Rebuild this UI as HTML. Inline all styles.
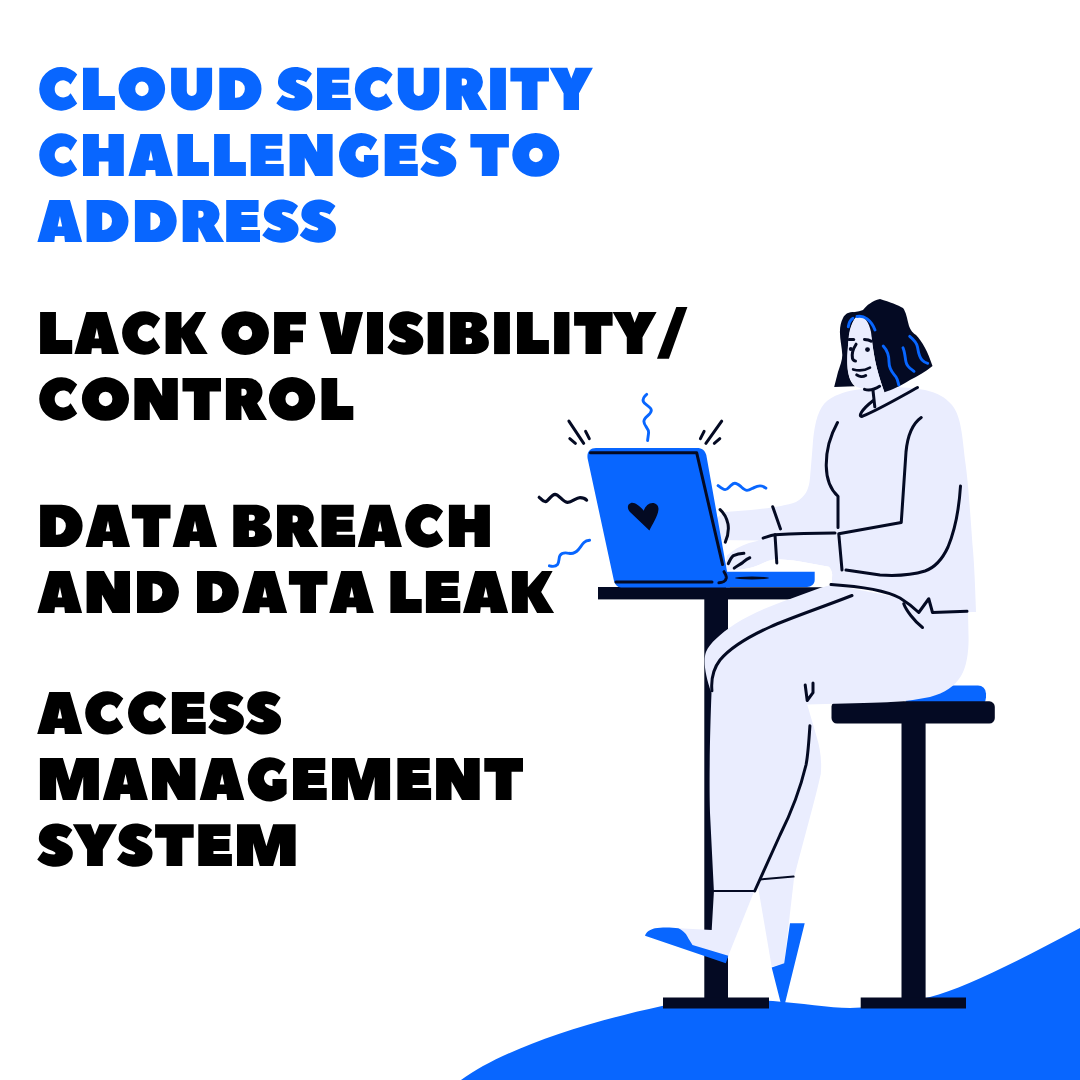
<!DOCTYPE html>
<html><head><meta charset="utf-8"><title>Cloud Security Challenges</title>
<style>
html,body{margin:0;padding:0;background:#fff}
body{width:1080px;height:1080px;position:relative;overflow:hidden;font-family:"Liberation Sans",sans-serif}
.sr{position:absolute;left:0;top:0;width:1px;height:1px;margin:-1px;padding:0;border:0;overflow:hidden;clip:rect(0 0 0 0);clip-path:inset(50%);white-space:nowrap}
svg{position:absolute;left:0;top:0}
#txt use{stroke:none;fill-rule:evenodd}
.bl{fill:#0866ff;stroke:#0866ff}
.bk{fill:#000;stroke:#000}
.s{fill:none;stroke:#040a23;stroke-width:3;stroke-linecap:round;stroke-linejoin:round}
.sb{fill:none;stroke:#0866ff;stroke-width:2.9;stroke-linecap:round;stroke-linejoin:round}
</style></head><body>
<div class="sr"><h1>CLOUD SECURITY CHALLENGES TO ADDRESS</h1><p>LACK OF VISIBILITY/ CONTROL</p><p>DATA BREACH AND DATA LEAK</p><p>ACCESS MANAGEMENT SYSTEM</p></div>
<svg width="1080" height="1080" viewBox="0 0 1080 1080">
<!-- TEXT -->
<g id="txt">
<defs>
<path id="gA" fill-rule="evenodd" d="M0,41.8 L12,0 L32.6,0 L44.8,41.8 L27.6,41.8 L27,35.9 L17.6,35.9 L17,41.8 Z M22.6,15.9 L24.8,26.4 L20.3,26.4 Z"/>
<path id="gM" fill-rule="evenodd" d="M0,0 L22.8,0 L29.4,22 L36.1,0 L58.6,0 L58.6,41.8 L43,41.8 L43,18.7 L36.1,41.8 L22.8,41.8 L16.1,18.7 L16.1,41.8 L0,41.8 Z"/>
<path id="gO" fill-rule="evenodd" d="M0,21.1 A23.4,21.9 0 1 0 46.8,21.1 A23.4,21.9 0 1 0 0,21.1 Z M16.7,21.1 A6.8,7.3 0 1 1 30.3,21.1 A6.8,7.3 0 1 1 16.7,21.1 Z"/>
<path id="gC" fill-rule="evenodd" d="M38.1,6.6 A21.8,21.8 0 1 0 38.1,35.6 L31.5,25.4 A8.56,8.56 0 1 1 31.5,16.8 Z"/>
<path id="gG" fill-rule="evenodd" d="M38.5,5.8 A22.3,22.3 0 1 0 39.5,35.8 L39.5,21.1 L25.2,21.1 L25.2,28 A8,8 0 1 1 31.9,16.7 Z"/>
<path id="gL" fill-rule="evenodd" d="M0,0 H15.8 V28.1 H32 V42.2 H0 Z"/>
<path id="gT" fill-rule="evenodd" d="M0,0 H38.5 V13.7 H27.1 V42.2 H11.4 V13.7 H0 Z"/>
<path id="gI" fill-rule="evenodd" d="M0,0 H15.8 V42.2 H0 Z"/>
<path id="gE" fill-rule="evenodd" d="M0,0 H31.9 V11.9 H15 V15 H30.8 V27 H15 V30.1 H33.3 V42.2 H0 Z"/>
<path id="gF" fill-rule="evenodd" d="M0,0 H31.8 V12.5 H16 V18.5 H28.9 V30.3 H16 V42.2 H0 Z"/>
<path id="gH" fill-rule="evenodd" d="M0,0 H15.9 V14.2 H25.5 V0 H40.8 V42.2 H25.5 V27.6 H15.9 V42.2 H0 Z"/>
<path id="gK" fill-rule="evenodd" d="M0,0 H15.9 V16.2 L30,0 H40.6 L29.2,21 L42.1,42.2 H25.1 L15.9,25.4 V42.2 H0 Z"/>
<path id="gV" fill-rule="evenodd" d="M0,0 H17.4 L22.3,24 L26.5,0 H43.6 L32.1,42.2 H11.8 Z"/>
<path id="gY" fill-rule="evenodd" d="M0,0 H18.1 L22.2,10.8 L26.5,0 H44.3 L30.1,25.4 V42.2 H14.3 V25.4 Z"/>
<path id="gN" fill-rule="evenodd" d="M0,0 H17.3 L27.7,18.5 V0 H43.3 V42.2 H25.7 L15.3,23.6 V42.2 H0 Z"/>
<path id="gD" fill-rule="evenodd" d="M0,0 H21.4 A21.1,21.1 0 0 1 21.4,42.2 H0 Z M15.8,12.5 H17 A8.75,8.75 0 0 1 17,30 H15.8 Z"/>
<path id="gU" fill-rule="evenodd" d="M0,0 H15.7 V23.2 A4.95,4.95 0 0 0 25.6,23.2 V0 H41 V22.2 A20.5,20.5 0 0 1 0,22.2 Z"/>
<path id="gR" fill-rule="evenodd" d="M0,0 H22 A14.9,14.4 0 0 1 31.5,25.5 L41.5,42.2 H23.4 L16.2,27.9 H15.7 V42.2 H0 Z M15.7,10.8 H17.5 A3.5,3.5 0 0 1 17.5,17.8 H15.7 Z"/>
<path id="gB" fill-rule="evenodd" d="M0,0 H21 C28,0 36.4,3 36.4,11.1 C36.4,15.5 33,18.5 28.9,19.7 C34,21 38.3,24.5 38.3,30.8 C38.3,38.5 31,42.2 21.5,42.2 H0 Z M15.5,10.1 H18.5 A2.9,3 0 0 1 18.5,16.1 H15.5 Z M15.5,25.8 H18.5 A3.2,3.25 0 0 1 18.5,32.3 H15.5 Z"/>
<path id="gS" fill-rule="evenodd" d="M35.2,5.9 L29.5,14.5 C27,12.8 23,11.8 20.5,12 C19,12.2 18.8,14 20.8,15.3 C25,17.5 31,19.5 33.5,23 C35.5,25.5 35.8,28 35.6,30 C35.4,37.5 28,42.9 18.5,42.9 C11,42.9 4.5,40 0,35.5 L6,27.3 C9.5,29.5 13.5,30.6 16.9,30.5 C18.8,30.3 18.8,28.5 16.9,27.7 C12,25.5 6,23.5 3.5,20 C1.5,17.5 1.5,14.5 1.8,12.5 C2.5,4.5 10,-0.7 18.5,-0.7 C25,-0.7 31,1.5 35.2,5.9 Z"/>
</defs>
<g class="bl" aria-label="CLOUD SECURITY">
<use href="#gC" transform="matrix(0.9974 0 0 1.0000 39.20 67.80)"/>
<use href="#gL" transform="matrix(0.9969 0 0 1.0000 83.00 67.80)"/>
<use href="#gO" transform="matrix(0.9936 0 0 1.0000 118.60 67.80)"/>
<use href="#gU" transform="matrix(1.0000 0 0 1.0000 171.10 67.80)"/>
<use href="#gD" transform="matrix(0.9929 0 0 1.0000 219.30 67.80)"/>
<use href="#gS" transform="matrix(1.0112 0 0 1.0000 276.30 67.80)"/>
<use href="#gE" transform="matrix(1.0120 0 0 1.0000 317.00 67.80)"/>
<use href="#gC" transform="matrix(0.9923 0 0 1.0000 354.80 67.80)"/>
<use href="#gU" transform="matrix(1.0122 0 0 1.0000 397.80 67.80)"/>
<use href="#gR" transform="matrix(0.9928 0 0 1.0000 446.20 67.80)"/>
<use href="#gI" transform="matrix(1.0000 0 0 1.0000 490.10 67.80)"/>
<use href="#gT" transform="matrix(1.0000 0 0 1.0000 510.40 67.80)"/>
<use href="#gY" transform="matrix(0.9774 0 0 1.0000 549.60 67.80)"/>
</g>
<g class="bl" aria-label="CHALLENGES TO">
<use href="#gC" transform="matrix(0.9974 0 0 0.9976 39.20 133.90)"/>
<use href="#gH" transform="matrix(1.0000 0 0 0.9976 83.00 133.90)"/>
<use href="#gA" transform="matrix(0.9888 0 0 1.0072 128.50 133.90)"/>
<use href="#gL" transform="matrix(0.9813 0 0 0.9976 177.50 133.90)"/>
<use href="#gL" transform="matrix(0.9938 0 0 0.9976 214.10 133.90)"/>
<use href="#gE" transform="matrix(0.9910 0 0 0.9976 250.70 133.90)"/>
<use href="#gN" transform="matrix(0.9931 0 0 0.9976 289.60 133.90)"/>
<use href="#gG" transform="matrix(0.9975 0 0 0.9976 338.80 133.90)"/>
<use href="#gE" transform="matrix(0.9940 0 0 0.9976 384.70 133.90)"/>
<use href="#gS" transform="matrix(1.0112 0 0 0.9976 420.30 133.90)"/>
<use href="#gT" transform="matrix(1.0000 0 0 0.9976 470.40 133.90)"/>
<use href="#gO" transform="matrix(1.0043 0 0 0.9976 512.30 133.90)"/>
</g>
<g class="bl" aria-label="ADDRESS">
<use href="#gA" transform="matrix(0.9978 0 0 1.0024 37.40 200.10)"/>
<use href="#gD" transform="matrix(0.9859 0 0 0.9929 86.60 200.10)"/>
<use href="#gD" transform="matrix(0.9835 0 0 0.9929 134.90 200.10)"/>
<use href="#gR" transform="matrix(0.9976 0 0 0.9929 182.70 200.10)"/>
<use href="#gE" transform="matrix(1.0150 0 0 0.9929 226.20 200.10)"/>
<use href="#gS" transform="matrix(1.0197 0 0 0.9929 262.20 200.10)"/>
<use href="#gS" transform="matrix(1.0169 0 0 0.9929 299.70 200.10)"/>
</g>
<g class="bk" aria-label="LACK OF VISIBILITY/">
<use href="#gL" transform="matrix(1.0031 0 0 0.9976 40.10 312.00)"/>
<use href="#gA" transform="matrix(0.9933 0 0 1.0072 74.40 312.00)"/>
<use href="#gC" transform="matrix(1.0000 0 0 0.9976 122.10 312.00)"/>
<use href="#gK" transform="matrix(1.0000 0 0 0.9976 165.60 312.00)"/>
<use href="#gO" transform="matrix(1.0128 0 0 0.9976 221.50 312.00)"/>
<use href="#gF" transform="matrix(1.0000 0 0 0.9976 274.10 312.00)"/>
<use href="#gV" transform="matrix(1.0023 0 0 0.9976 319.30 312.00)"/>
<use href="#gI" transform="matrix(1.0127 0 0 0.9976 367.00 312.00)"/>
<use href="#gS" transform="matrix(1.0084 0 0 0.9976 387.40 312.00)"/>
<use href="#gI" transform="matrix(1.0000 0 0 0.9976 427.70 312.00)"/>
<use href="#gB" transform="matrix(1.0131 0 0 0.9976 450.10 312.00)"/>
<use href="#gI" transform="matrix(1.0000 0 0 0.9976 494.10 312.00)"/>
<use href="#gL" transform="matrix(0.9969 0 0 0.9976 517.00 312.00)"/>
<use href="#gI" transform="matrix(0.9684 0 0 0.9976 554.10 312.00)"/>
<use href="#gT" transform="matrix(1.0000 0 0 0.9976 574.10 312.00)"/>
<use href="#gY" transform="matrix(0.9932 0 0 0.9976 612.60 312.00)"/>
</g>
<g class="bk" aria-label="CONTROL">
<use href="#gC" transform="matrix(0.9974 0 0 0.9976 39.20 377.90)"/>
<use href="#gO" transform="matrix(1.0064 0 0 0.9976 81.90 377.90)"/>
<use href="#gN" transform="matrix(1.0023 0 0 0.9976 134.40 377.90)"/>
<use href="#gT" transform="matrix(1.0000 0 0 0.9976 182.50 377.90)"/>
<use href="#gR" transform="matrix(0.9904 0 0 0.9976 225.90 377.90)"/>
<use href="#gO" transform="matrix(0.9893 0 0 0.9976 268.90 377.90)"/>
<use href="#gL" transform="matrix(0.9938 0 0 0.9976 321.50 377.90)"/>
</g>
<g class="bk" aria-label="DATA BREACH">
<use href="#gD" transform="matrix(1.0000 0 0 1.0024 40.10 504.70)"/>
<use href="#gA" transform="matrix(0.9911 0 0 1.0120 85.60 504.70)"/>
<use href="#gT" transform="matrix(1.0026 0 0 1.0024 131.90 504.70)"/>
<use href="#gA" transform="matrix(0.9911 0 0 1.0120 172.60 504.70)"/>
<use href="#gB" transform="matrix(1.0078 0 0 1.0024 233.30 504.70)"/>
<use href="#gR" transform="matrix(0.9952 0 0 1.0024 277.00 504.70)"/>
<use href="#gE" transform="matrix(1.0090 0 0 1.0024 321.50 504.70)"/>
<use href="#gA" transform="matrix(0.9844 0 0 1.0120 357.80 504.70)"/>
<use href="#gC" transform="matrix(0.9949 0 0 1.0024 405.20 504.70)"/>
<use href="#gH" transform="matrix(1.0049 0 0 1.0024 448.90 504.70)"/>
</g>
<g class="bk" aria-label="AND DATA LEAK">
<use href="#gA" transform="matrix(0.9978 0 0 1.0072 37.40 571.00)"/>
<use href="#gN" transform="matrix(1.0023 0 0 0.9976 86.60 571.00)"/>
<use href="#gD" transform="matrix(0.9859 0 0 0.9976 137.00 571.00)"/>
<use href="#gD" transform="matrix(0.9835 0 0 0.9976 197.00 571.00)"/>
<use href="#gA" transform="matrix(1.0022 0 0 1.0072 242.20 571.00)"/>
<use href="#gT" transform="matrix(1.0000 0 0 0.9976 288.90 571.00)"/>
<use href="#gA" transform="matrix(0.9933 0 0 1.0072 329.30 571.00)"/>
<use href="#gL" transform="matrix(0.9781 0 0 0.9976 390.40 571.00)"/>
<use href="#gE" transform="matrix(1.0330 0 0 0.9976 425.90 571.00)"/>
<use href="#gA" transform="matrix(1.0067 0 0 1.0072 463.00 571.00)"/>
<use href="#gK" transform="matrix(1.0024 0 0 0.9976 511.90 571.00)"/>
</g>
<g class="bk" aria-label="ACCESS">
<use href="#gA" transform="matrix(1.0045 0 0 1.0024 37.20 692.00)"/>
<use href="#gC" transform="matrix(1.0000 0 0 0.9929 85.20 692.00)"/>
<use href="#gC" transform="matrix(1.0026 0 0 0.9929 128.00 692.00)"/>
<use href="#gE" transform="matrix(1.0150 0 0 0.9929 171.90 692.00)"/>
<use href="#gS" transform="matrix(1.0028 0 0 0.9929 208.20 692.00)"/>
<use href="#gS" transform="matrix(0.9944 0 0 0.9929 245.60 692.00)"/>
</g>
<g class="bk" aria-label="MANAGEMENT">
<use href="#gM" transform="matrix(1.0068 0 0 1.0024 39.90 758.10)"/>
<use href="#gA" transform="matrix(1.0067 0 0 1.0024 102.80 758.10)"/>
<use href="#gN" transform="matrix(1.0023 0 0 0.9929 152.00 758.10)"/>
<use href="#gA" transform="matrix(0.9933 0 0 1.0024 199.70 758.10)"/>
<use href="#gG" transform="matrix(0.9873 0 0 0.9929 247.60 758.10)"/>
<use href="#gE" transform="matrix(1.0120 0 0 0.9929 293.00 758.10)"/>
<use href="#gM" transform="matrix(0.9915 0 0 1.0024 332.00 758.10)"/>
<use href="#gE" transform="matrix(1.0120 0 0 0.9929 397.40 758.10)"/>
<use href="#gN" transform="matrix(1.0069 0 0 0.9929 436.10 758.10)"/>
<use href="#gT" transform="matrix(1.0052 0 0 0.9929 484.30 758.10)"/>
</g>
<g class="bk" aria-label="SYSTEM">
<use href="#gS" transform="matrix(1.0000 0 0 0.9929 37.20 824.20)"/>
<use href="#gY" transform="matrix(0.9977 0 0 0.9929 72.80 824.20)"/>
<use href="#gS" transform="matrix(0.9972 0 0 0.9929 117.00 824.20)"/>
<use href="#gT" transform="matrix(1.0026 0 0 0.9929 155.10 824.20)"/>
<use href="#gE" transform="matrix(1.0090 0 0 0.9929 198.30 824.20)"/>
<use href="#gM" transform="matrix(1.0000 0 0 1.0024 237.00 824.20)"/>
</g>
<path fill="#000" aria-label="/" d="M676.3,307 L687.4,307 L668.9,358.8 L657,358.8 Z"/>

</g>
<!-- ILLUSTRATION -->
<g id="ill">
<!-- ground -->
<path fill="#0866ff" d="M461,1080 C500,1052 570,1026 662,1006 C700,1000 740,999 773,1001 C800,1003 830,1008 850,1008 C880,1007 905,1003 930,997 C965,988 1020,960 1080,928 L1080,1080 Z"/>
<!-- table -->
<g fill="#040a23">
<rect x="598" y="587" width="232" height="12.4"/>
<rect x="704.3" y="598" width="23.7" height="401"/>
<rect x="663" y="997.5" width="106" height="11"/>
</g>
<!-- stool -->
<rect x="905" y="685.5" width="81" height="20" rx="8" fill="#0866ff"/>
<g fill="#040a23">
<rect x="831.5" y="701.3" width="163.3" height="22.2" rx="5.5"/>
<rect x="901.5" y="722" width="24.1" height="277"/>
<rect x="860.7" y="997.5" width="105.3" height="11"/>
</g>
<!-- back leg sock + heel -->
<path fill="#eaedfe" d="M760.5,879.4 L794.2,876.7 L784.2,963.3 L771.7,966.7 L758.3,888.3 Z"/>
<path fill="#0866ff" d="M790,923.3 L804.7,923.3 L785,1003.3 L780.8,1003.3 L771.7,967.5 L784.2,963.3 Z"/>
<!-- front sock + shoe -->
<path fill="#eaedfe" d="M714,890 L754.7,890 L728.4,955.6 L726,960 L692,949 L686,941 L677,931 L678.3,928.3 L711.7,930 Z"/>
<path fill="#0866ff" d="M645,935.8 C646,932 650,929.5 655,928.3 C662,927.2 672,927.5 678.3,928.3 C684,931 687,935 688.3,938.3 L692.5,945 L728.3,955.8 L725.8,963.3 Z"/>
<!-- pants -->
<path fill="#eaedfe" d="M831.7,584.4 L822,587.2 L790,599 C770,606 750,614 735,624 C720,634 710,643 706,652 C703,660 705,675 711.5,693 C710,730 709,780 710,813 L713.9,891 L754.7,891 L760.5,879.4 L794.2,876.7 C805,835 815,800 820.8,774 C822,760 820,748 817,738 L807.2,704.4 C830,704 860,703 880,702.5 C900,702 915,700 930,697 C945,693 955,686 961,676 C967,666 969,650 968.5,635 L968,611 Z"/>
<!-- torso -->
<path fill="#eaedfe" d="M855,390 C843,392 833,396 827,401 C819,408 815,420 813,441 C812,455 811,465 810,478 C809,490 805,497 796,502 C785,506 770,508 751,510 L725,512 C720,515 716,518 715,522 L714,540 L759,540.4 L749,543 C740,546 733,550 727,555.6 L724,571 L729,570.4 C740,570 752,568 760,564.4 C766,562 770,560 775,559.3 C782,559 790,560 800,561.5 L828.9,566.7 C831,569 832,572 832.2,574.4 L831.7,584.4 C855,586 885,590 900,598 L918.75,612.5 L976,612 C975,580 974,560 972.5,545 C970,510 968,480 965,460 C962,430 960,415 952,405 C945,397 938,393 925,390 C905,386 875,386 855,390 Z"/>
<!-- white gap above laptop base -->
<path fill="#fff" d="M726,571.5 L729,570.4 C740,570 752,568 760,564.4 C766,562 770,560 775,559.3 C782,559 790,560 800,561.5 L828.9,566.7 C831,569 832,572 832.2,574.4 L831.7,584.4 L822,587.2 L726,587.2 Z"/>
<!-- hair -->
<path fill="#040a23" d="M880,299 C890,302 898,305 903,308 C906,312 907,318 909,326 C911,331 913,333 916,335 C922,341 928,352 932.5,366 C925,372 918,376 910,380 C900,386 892,390 884.4,392.3 C880,380 877,370 875,360 C873,350 872,340 870,331 C868,322 864,317 857,315 C853,315 850,318 848,322 L846,314 C852,312 858,312 863,310 C867,305 872,301 880,299 Z"/>
<path fill="#040a23" d="M853,312 C848,312.5 845,314 843,318 C841,322 840,326 839.9,332 C839.9,340 842,347 842.3,355 C842.3,360 840,366 838,372 C837,376 836,380 834.2,386.9 L854.9,386.3 C852,384 850,380 849,376 C847,368 847,358 848,348 C848.5,338 850,328 853,322 C855,318 857,316 859,315 Z"/>
<!-- face -->
<path fill="#eaedfe" d="M858.5,315 C852,320 849,330 848.5,340 C847.5,350 846.5,362 848,372 C849.5,380 853,385 857,387 C862,389 868,389.5 873,389.5 L884.4,392.3 C880,380 877,370 875,360 C873,350 872,340 871,332 C869,322 865,317 858.5,315 Z"/>
<!-- hair highlights -->
<path class="sb" d="M857,316.5 C864,315 871,320 875,330"/>
<path class="sb" d="M848.3,326.7 C849,322 851,319.5 853,318.3"/>
<path class="sb" d="M883.2,346 C887,350 889,355 889,362 C889,370 893,373 896,377 C898,380 898,383 898.8,385"/>
<path class="sb" d="M903,347.8 C905,352 905,358 906,362 C907,367 911,369 914,371.3"/>
<path class="sb" d="M909.7,336.3 C913,339 916.9,343 917.5,347 C918.5,353 919,357 922,360 C924,362 926,363 927.7,363.4"/>
<!-- face features -->
<g class="s" stroke-width="2.2">
<path d="M849,339.4 L853.7,339.4"/>
<path d="M864.5,339.4 C867,339.5 869.5,340 871.2,341.2"/>
<path d="M856.1,344.2 C853,349 851.5,354 852.5,358.6 C853,360 854,361 855.5,361"/>
<path d="M853.1,369.4 C858,370.8 865,370.5 870,367.6" stroke-width="2.6"/>
<path d="M856.7,374.9 C859,376.8 863,377 865.7,375.5"/>
<path d="M864.5,389.3 C868,390.5 873,390.5 879.6,386.3"/>
<path d="M873,390.5 L874.8,406.8"/>
<path d="M917.5,387.5 C900,397 880,409 862,416.4 C858,417 861,410 873,400.7"/>
</g>
<circle cx="850.8" cy="349" r="2" fill="#040a23"/>
<circle cx="867.5" cy="349.6" r="2.4" fill="#040a23"/>
<!-- body strokes -->
<g class="s">
<path d="M837.5,422.5 C830,436 826,450 826.25,466 C826.5,480 831,490 838,496.25 L838,527.5"/>
<path d="M921.25,417.5 C912,424 907.5,436 906,452 L901.25,522.5 L838.75,533.75 L842,570"/>
<path d="M763.1,538.1 C768,536.5 771,535.2 775,534.8 C795,533.5 815,533 835,533"/>
<path d="M775,534.8 L776.8,563"/>
<path d="M772.7,506.7 L780.5,528.9"/>
<path d="M960.5,486 C959,510 955,530 948,547 C942,560 935,567.5 925,571 C912,575 895,576 880,575 L846,570"/>
<path d="M831,584.5 C855,586 885,590 900,598 C908,603 914,608 918.75,612.5 L928.75,598.75 L932.5,612.5 L967,611.25"/>
<path d="M903.75,603.75 C906,610 914,621 922.5,627.5"/>
<path d="M852,595.5 C820,608 790,618 770,627 C750,636 730,648 720,660 C713,669 711,680 711.9,690.8"/>
<path d="M805.2,685 L807.2,700.5 L813,692.7 L813,683"/>
<path d="M809.9,725.8 C809,740 808,755 806,765 C800,790 790,815 780,835 L754.7,891"/>
<path d="M713.9,891 L754.7,891" stroke-width="2"/>
<path d="M760.5,879.4 L793.6,876.6" stroke-width="2"/>
<path d="M720.1,509.6 C724,513 726.8,518.5 728,524 C729,530 728,536 725.3,542.2"/>
<path d="M728.3,563.7 C730,560 731.5,557 733.5,555.6 C737,554 740,553.5 743.9,553.3"/>
<path d="M734.2,568.1 C737,566 740,564.5 743.1,562.2 C745.5,560 747.5,558.5 749.8,557.8"/>
</g>
<!-- laptop -->
<path fill="#0866ff" d="M716,571.7 L814.7,571.7 L814.7,580 C814.7,584 811,587 807,587 L716,587 Z"/>
<ellipse cx="752" cy="578" rx="17" ry="1.4" fill="#040a23"/>
<path fill="#0866ff" d="M596,448 L697,448 C702,448 705,450.5 706.3,455 L728,577 L730,587.4 L621,587.4 C617.5,587.4 615,584.5 614,581 L587.6,458.5 C586.6,452 590,448 596,448 Z"/>
<g class="s" stroke-width="2">
<path d="M590.5,452.8 L696.7,452.8 L722.6,564.6"/>
<path d="M724,571.7 C725.5,574 726.5,576 726.3,578 C725.8,581 722.5,582.8 718.9,582.8"/>
<path d="M616,582 L712,582"/>
</g>
<path fill="#040a23" d="M649.4,530.6 L630,512 C627,509 627,504 631,502.9 C635,502 640,506.5 643.8,510.7 C645,506.5 648.5,502.9 652.4,502.9 C656.5,502.9 659,506 658.4,510 C657.8,516 652,525 649.4,530.6 Z"/>
<!-- squiggles -->
<path class="sb" stroke-width="3" d="M646.7,394.3 C644.5,396 642.5,398.5 643.3,401.5 C644.5,405 651.5,406.5 651.3,410.5 C651,415 643.8,417 643.9,421.5 C644,426 648.8,428.5 648.6,432.5 C648.4,435.5 647.8,438 647.6,440.6"/>
<g class="s">
<path d="M568.9,421.1 L583.7,443.3"/>
<path d="M569.8,438.7 L575.4,443.3"/>
<path d="M585.6,431.3 L589.3,438.7"/>
<path d="M721.7,421.1 L705.9,443.3"/>
<path d="M700.4,438.7 L704.1,431.3"/>
<path d="M714.3,443.3 L719.8,438.7"/>
<path stroke-width="3.2" d="M539.2,497.3 C541.5,499.5 543.5,501.8 545.5,501.6 C548.5,501.3 551,494.5 555,494.3 C559,494.2 563,502.4 567.7,502.4 C572,502.4 576,497.7 580,497.7 C583,497.7 585.5,499 586.6,500.1"/>
</g>
<path class="sb" stroke-width="3.3" d="M549.4,565.8 C552,566.5 555.5,566.8 557.5,564.5 C559.5,562 558.5,558 560,555.5 C561.5,553 566,552.7 569,553.3 C573,554 576,552.5 578.5,549.5 C580.5,547 582,544.5 584,542.5 C585.5,541 587.5,540.4 589.6,540.3"/>
<path class="sb" stroke-width="3.3" d="M718.1,485.6 C720.5,487.5 723,489.6 725.2,489.6 C727.5,489.6 729,487 731,485.3 C732.5,484 733.5,483.3 734.8,483.3 C737,483.3 739,485 741,486.7 C743,488.5 745,490.4 747,490.4 C749.5,490.4 751.5,488.8 754,487.6 C756,486.6 758,485.9 760,485.9 C762.5,485.9 764.5,487 765.9,488.1"/>
</g>
</svg>
</body></html>
